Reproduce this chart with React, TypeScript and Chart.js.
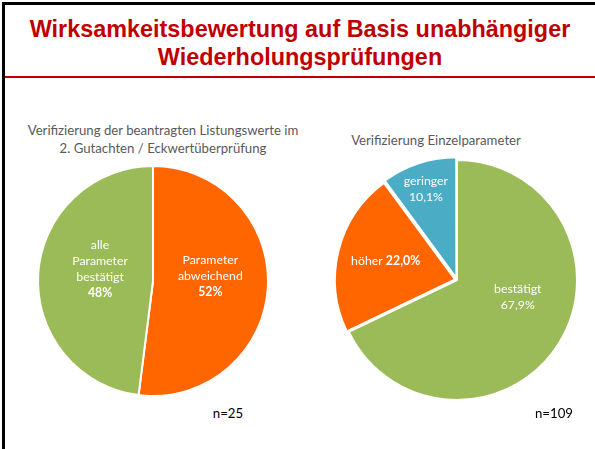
import React, { useEffect, useRef } from 'react';
import { Chart, registerables } from 'chart.js';
Chart.register(...registerables);

const slideTitle = ['Wirksamkeitsbewertung auf Basis unabhängiger', 'Wiederholungsprüfungen'];

const leftTitle = ['Verifizierung der beantragten Listungswerte im', '2. Gutachten / Eckwertüberprüfung'];
const leftCategories = ['Parameter abweichend', 'alle Parameter bestätigt'];
const leftValues = [52, 48];
const leftLabelLines = [['Parameter', 'abweichend'], ['alle', 'Parameter', 'bestätigt']];
const leftColors = ['#FF6600', '#9BBB59'];
const leftN = 'n=25';

const rightTitle = ['Verifizierung Einzelparameter'];
const rightCategories = ['bestätigt', 'höher', 'geringer'];
const rightValues = [67.9, 22.0, 10.1];
const rightColors = ['#9BBB59', '#FF6600', '#4BACC6'];
const rightN = 'n=109';

const LABEL_FONT = 'Lato, "Open Sans", sans-serif';

type Seg = { text: string; bold?: boolean };
type LabelSpec = { lines: Seg[][]; frac: number; dx: number; dy: number };

const labelPlugin = {
  id: 'sliceLabels',
  afterDatasetsDraw(chart: any, _args: any, opts: any) {
    const specs: LabelSpec[] = opts.specs || [];
    const ctx = chart.ctx;
    const meta = chart.getDatasetMeta(0);
    const size = opts.size || 12;
    const lh = opts.lineHeight || 15.5;
    ctx.save();
    ctx.fillStyle = '#FFFFFF';
    ctx.textBaseline = 'middle';
    meta.data.forEach((arc: any, i: number) => {
      const spec = specs[i];
      if (!spec) return;
      const p = arc.getProps(['x', 'y', 'startAngle', 'endAngle', 'outerRadius'], true);
      const mid = (p.startAngle + p.endAngle) / 2;
      const cx = p.x + Math.cos(mid) * p.outerRadius * spec.frac + spec.dx;
      const cy = p.y + Math.sin(mid) * p.outerRadius * spec.frac + spec.dy;
      const n = spec.lines.length;
      spec.lines.forEach((line, li) => {
        const y = cy + (li - (n - 1) / 2) * lh;
        const widths = line.map((s) => {
          ctx.font = `${s.bold ? 'bold ' : ''}${size}px ${LABEL_FONT}`;
          return ctx.measureText(s.text).width;
        });
        const total = widths.reduce((a, b) => a + b, 0);
        let x = cx - total / 2;
        ctx.textAlign = 'left';
        line.forEach((s, si) => {
          ctx.font = `${s.bold ? 'bold ' : ''}${size}px ${LABEL_FONT}`;
          ctx.fillText(s.text, x, y);
          x += widths[si];
        });
      });
    });
    ctx.restore();
  },
};

const fmtPct = (v: number, digits: number) => v.toFixed(digits).replace('.', ',') + '%';

function PieCanvas(props: {
  categories: string[];
  values: number[];
  colors: string[];
  offsets: number[];
  radius: number;
  specs: LabelSpec[];
  style: React.CSSProperties;
  width: number;
  height: number;
}) {
  const ref = useRef<HTMLCanvasElement>(null);
  useEffect(() => {
    if (!ref.current) return;
    const chart = new Chart(ref.current, {
      type: 'pie',
      data: {
        labels: props.categories,
        datasets: [
          {
            data: props.values,
            backgroundColor: props.colors,
            borderColor: '#FFFFFF',
            borderWidth: 2,
            offset: props.offsets,
            radius: props.radius,
          } as any,
        ],
      },
      options: {
        animation: false,
        responsive: false,
        events: [],
        layout: { padding: 0 },
        plugins: {
          legend: { display: false },
          tooltip: { enabled: false },
          title: { display: false },
          sliceLabels: { specs: props.specs, size: 12.3, lineHeight: 16 },
        } as any,
      },
      plugins: [labelPlugin],
    });
    return () => chart.destroy();
  }, []);
  return <canvas ref={ref} width={props.width} height={props.height} style={{ position: 'absolute', ...props.style, width: props.width, height: props.height }} />;
}

export default function App() {
  const leftSpecs: LabelSpec[] = [
    { lines: [...leftLabelLines[0].map((t) => [{ text: t }]), [{ text: fmtPct(leftValues[0], 0), bold: true }]], frac: 0.5, dx: 0, dy: -9 },
    { lines: [...leftLabelLines[1].map((t) => [{ text: t }]), [{ text: fmtPct(leftValues[1], 0), bold: true }]], frac: 0.47, dx: 1, dy: -9 },
  ];
  const rightSpecs: LabelSpec[] = [
    { lines: [[{ text: rightCategories[0] }], [{ text: fmtPct(rightValues[0], 1) }]], frac: 0.5, dx: 10, dy: -15 },
    { lines: [[{ text: rightCategories[1] + ' ' }, { text: fmtPct(rightValues[1], 1), bold: true }]], frac: 0.57, dx: -5, dy: -2 },
    { lines: [[{ text: rightCategories[2] }], [{ text: fmtPct(rightValues[2], 1) }]], frac: 0.75, dx: -3, dy: -5 },
  ];
  const txt: React.CSSProperties = {
    position: 'absolute',
    fontFamily: LABEL_FONT,
    fontSize: 13.2,
    color: '#595959',
    textAlign: 'center',
    lineHeight: '18px',
    whiteSpace: 'nowrap',
  };
  return (
    <div style={{ position: 'fixed', left: 0, top: 0, width: 595, height: 449, background: '#FFFFFF', overflow: 'hidden' }}>
      <div style={{ position: 'absolute', left: 2, top: 2, width: 593, height: 447, borderLeft: '3px solid #000', borderTop: '3px solid #000', boxSizing: 'border-box' }} />
      <div
        style={{
          position: 'absolute',
          left: 5,
          top: 15,
          width: 590,
          textAlign: 'center',
          fontFamily: '"Liberation Sans", Arial, sans-serif',
          fontWeight: 'bold',
          fontSize: 23.4,
          lineHeight: '28px',
          color: '#C00000',
        }}
      >
        {slideTitle.map((t, i) => (
          <div key={i}>{t}</div>
        ))}
      </div>
      <div style={{ position: 'absolute', left: 5, top: 76, width: 590, height: 2, background: '#C00000' }} />
      <div style={{ ...txt, left: 13, top: 121, width: 300 }}>
        {leftTitle.map((t, i) => (
          <div key={i}>{t}</div>
        ))}
      </div>
      <div style={{ ...txt, left: 286, top: 131, width: 300 }}>
        {rightTitle.map((t, i) => (
          <div key={i}>{t}</div>
        ))}
      </div>
      <PieCanvas
        categories={leftCategories}
        values={leftValues}
        colors={leftColors}
        offsets={[0, 0]}
        radius={115}
        specs={leftSpecs}
        width={240}
        height={240}
        style={{ left: 33, top: 161 }}
      />
      <PieCanvas
        categories={rightCategories}
        values={rightValues}
        colors={rightColors}
        offsets={[0, 8, 8]}
        radius={120}
        specs={rightSpecs}
        width={280}
        height={280}
        style={{ left: 317, top: 140 }}
      />
      <div style={{ ...txt, color: '#000', left: 178, top: 404, width: 100 }}>{leftN}</div>
      <div style={{ ...txt, color: '#000', left: 504, top: 404, width: 100 }}>{rightN}</div>
    </div>
  );
}
